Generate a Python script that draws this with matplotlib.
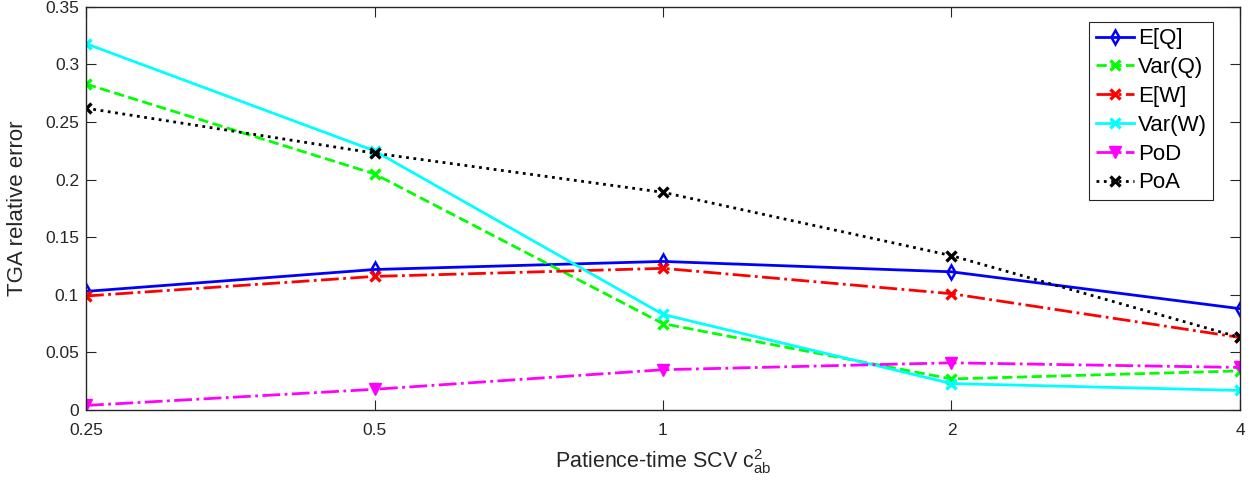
import numpy as np
import matplotlib.pyplot as plt

plt.rcParams['font.family'] = ['Liberation Sans', 'DejaVu Sans']

# Patience-time SCV values
scv = [0.25, 0.5, 1, 2, 4]
scv_labels = ['0.25', '0.5', '1', '2', '4']

# TGA relative errors per performance measure
err_EQ = [0.103, 0.122, 0.129, 0.120, 0.088]
err_VarQ = [0.283, 0.205, 0.075, 0.027, 0.034]
err_EW = [0.099, 0.116, 0.123, 0.101, 0.063]
err_VarW = [0.318, 0.225, 0.083, 0.023, 0.017]
err_PoD = [0.004, 0.018, 0.035, 0.041, 0.037]
err_PoA = [0.262, 0.223, 0.189, 0.134, 0.063]

fig = plt.figure(figsize=(12.52, 4.87), dpi=100)
ax = fig.add_axes([0.0687, 0.158, 0.9217, 0.828])

lw = 2.0
ax.plot(scv, err_EQ, color='#0000ff', ls='-', marker='d', ms=7, mfc='none', mew=1.8, lw=lw, label='E[Q]')
ax.plot(scv, err_VarQ, color='#00ff00', ls='--', marker='x', ms=7, mew=2.4, lw=lw, label='Var(Q)')
ax.plot(scv, err_EW, color='#ff0000', ls='-.', marker='x', ms=7, mew=2.4, lw=lw, label='E[W]')
ax.plot(scv, err_VarW, color='#00ffff', ls='-', marker='x', ms=7, mew=2.4, lw=lw, label='Var(W)')
ax.plot(scv, err_PoD, color='#ff00ff', ls='-.', marker='v', ms=8, lw=lw, label='PoD')
ax.plot(scv, err_PoA, color='#000000', ls=':', marker='x', ms=7, mew=2.4, lw=lw, label='PoA')

ax.set_xscale('log', base=2)
ax.set_xlim(0.25, 4)
ax.set_xticks(scv)
ax.set_xticklabels(scv_labels)
ax.minorticks_off()
ax.set_ylim(0, 0.35)
ax.set_yticks(np.arange(0, 0.351, 0.05))
ax.set_yticklabels(['0', '0.05', '0.1', '0.15', '0.2', '0.25', '0.3', '0.35'])

for s in ax.spines.values():
    s.set_color('#262626')
    s.set_linewidth(1.0)
ax.tick_params(direction='in', top=True, right=True, length=7, width=0.8,
               colors='#262626', labelsize=12.5, pad=5)
ax.tick_params(axis='x', pad=9)

ax.set_xlabel('Patience-time SCV $\\mathregular{c_{ab}^2}$', fontsize=15.5,
              color='#262626', labelpad=7)
ax.set_ylabel('TGA relative error', fontsize=16, color='#262626', labelpad=12)

leg = ax.legend(loc='upper right', bbox_to_anchor=(0.977, 0.963), fontsize=16,
                fancybox=False, framealpha=1, edgecolor='#262626',
                handlelength=1.75, handletextpad=0.15, borderpad=0.3,
                labelspacing=0.35, borderaxespad=0)
leg.get_frame().set_linewidth(0.8)

fig.savefig('out.png', dpi=100)
